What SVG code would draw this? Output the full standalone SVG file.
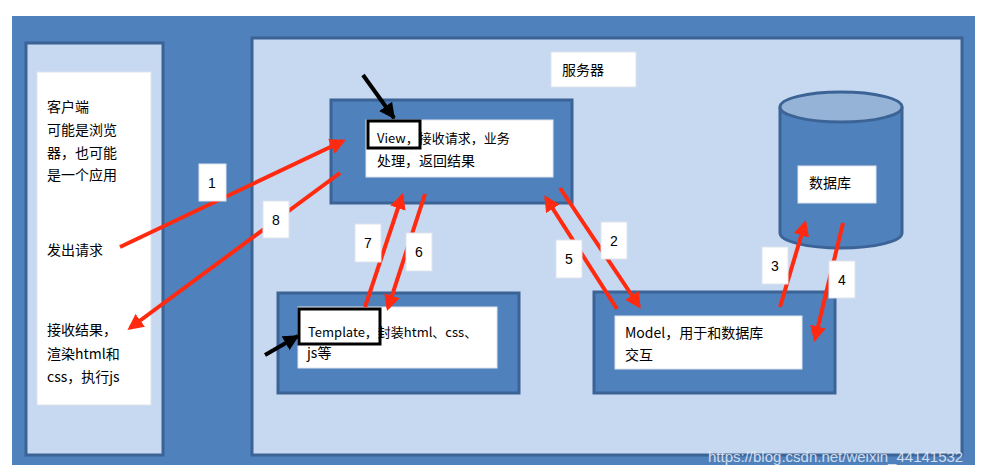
<svg xmlns="http://www.w3.org/2000/svg" width="991" height="475" viewBox="0 0 991 475">
<style>
text{font-family:"Noto Sans CJK SC","Liberation Sans",sans-serif;font-size:14px;fill:#000}
.panel{fill:#c6d9f0;stroke:#3c6396;stroke-width:3}
.outer{fill:#4f81bd;stroke:#3c6396;stroke-width:3}
.wb{fill:#fff;stroke:#dde4ee;stroke-width:1}
.blk{fill:none;stroke:#000;stroke-width:3}
.red{stroke:#ff2a10;stroke-width:4;fill:none}
.num{font-family:"Liberation Sans",sans-serif;font-size:14px;text-anchor:middle}
</style>
<defs>
<marker id="ra" viewBox="0 0 10 10" refX="8" refY="5" markerWidth="4" markerHeight="4" orient="auto"><path d="M0,0L10,5L0,10Z" fill="#ff2a10"/></marker>
<marker id="ba" viewBox="0 0 10 10" refX="9" refY="5" markerWidth="4" markerHeight="4" orient="auto"><path d="M0,0L10,5L0,10Z" fill="#000"/></marker>
</defs>
<rect x="12" y="16" width="963" height="449" fill="#4f81bd"/>
<g id="client">
<rect class="panel" x="26" y="43" width="137" height="412"/>
<rect class="wb" x="37" y="72" width="114" height="333"/>
<text x="47" y="112">客户端</text><text x="47" y="135">可能是浏览</text><text x="47" y="158">器，也可能</text><text x="47" y="180">是一个应用</text>
<text x="47" y="255">发出请求</text>
<text x="47" y="335">接收结果，</text><text x="47" y="359">渲染html和</text><text x="47" y="382">css，执行js</text>
</g>
<g id="server">
<rect class="panel" x="252" y="38" width="710" height="417"/>
<rect class="wb" x="551" y="52" width="85" height="35"/>
<text x="562" y="75">服务器</text>
</g>
<g id="view">
<rect class="outer" x="331" y="100" width="241" height="103"/>
<rect class="wb" x="366" y="120" width="187" height="57"/>
<rect class="blk" x="368" y="121" width="52" height="27"/>
<text x="377" y="143" style="font-size:13px">View，接收请求，业务</text>
<text x="377" y="166">处理，返回结果</text>
</g>
<g id="template">
<rect class="outer" x="278" y="293" width="241" height="100"/>
<rect class="wb" x="298" y="307" width="199" height="61"/>
<rect class="blk" x="299" y="309" width="81" height="35"/>
<text x="308" y="337" style="font-size:13px">Template，封装html、css、</text>
<text x="307" y="358">js等</text>
</g>
<g id="model">
<rect class="outer" x="594" y="292" width="241" height="101"/>
<rect class="wb" x="615" y="316" width="187" height="53"/>
<text x="625" y="338">Model，用于和数据库</text>
<text x="625" y="360">交互</text>
</g>
<g id="database">
<path d="M780,107 V233 A61,15 0 0 0 902,233 V107" fill="#4f81bd" stroke="#3c6396" stroke-width="3"/>
<ellipse cx="841" cy="107" rx="61" ry="15" fill="#95b3d7" stroke="#3c6396" stroke-width="3"/>
<rect class="wb" x="798" y="166" width="78" height="37"/>
<text x="809" y="188">数据库</text>
</g>
<g id="connectors">
<line class="red" x1="120" y1="247" x2="343" y2="141" marker-end="url(#ra)"/>
<line class="red" x1="340" y1="173" x2="130" y2="328" marker-end="url(#ra)"/>
<line class="red" x1="560" y1="188" x2="639" y2="306" marker-end="url(#ra)"/>
<line class="red" x1="617" y1="309" x2="546" y2="198" marker-end="url(#ra)"/>
<line class="red" x1="365" y1="307" x2="402" y2="196" marker-end="url(#ra)"/>
<line class="red" x1="425" y1="194" x2="388" y2="308" marker-end="url(#ra)"/>
<line class="red" x1="780" y1="307" x2="805" y2="223" marker-end="url(#ra)"/>
<line class="red" x1="843" y1="223" x2="815" y2="339" marker-end="url(#ra)"/>
<line x1="363" y1="75" x2="394" y2="118" stroke="#000" stroke-width="4" marker-end="url(#ba)"/>
<line x1="265" y1="355" x2="298" y2="336" stroke="#000" stroke-width="4" marker-end="url(#ba)"/>
<rect class="wb" x="199" y="164" width="27" height="37"/><text class="num" x="212" y="188">1</text>
<rect class="wb" x="263" y="201" width="26" height="37"/><text class="num" x="276" y="225">8</text>
<rect class="wb" x="355" y="224" width="26" height="38"/><text class="num" x="368" y="248">7</text>
<rect class="wb" x="406" y="233" width="26" height="38"/><text class="num" x="419" y="257">6</text>
<rect class="wb" x="556" y="240" width="26" height="38"/><text class="num" x="569" y="264">5</text>
<rect class="wb" x="601" y="222" width="26" height="37"/><text class="num" x="614" y="246">2</text>
<rect class="wb" x="762" y="247" width="26" height="37"/><text class="num" x="775" y="271">3</text>
<rect class="wb" x="829" y="261" width="26" height="37"/><text class="num" x="842" y="285">4</text>
</g>
<text x="708" y="462" style="font-family:'Liberation Sans',sans-serif;font-size:15px;fill:#e8edf5;opacity:0.85">https://blog.csdn.net/weixin_44141532</text>
</svg>
